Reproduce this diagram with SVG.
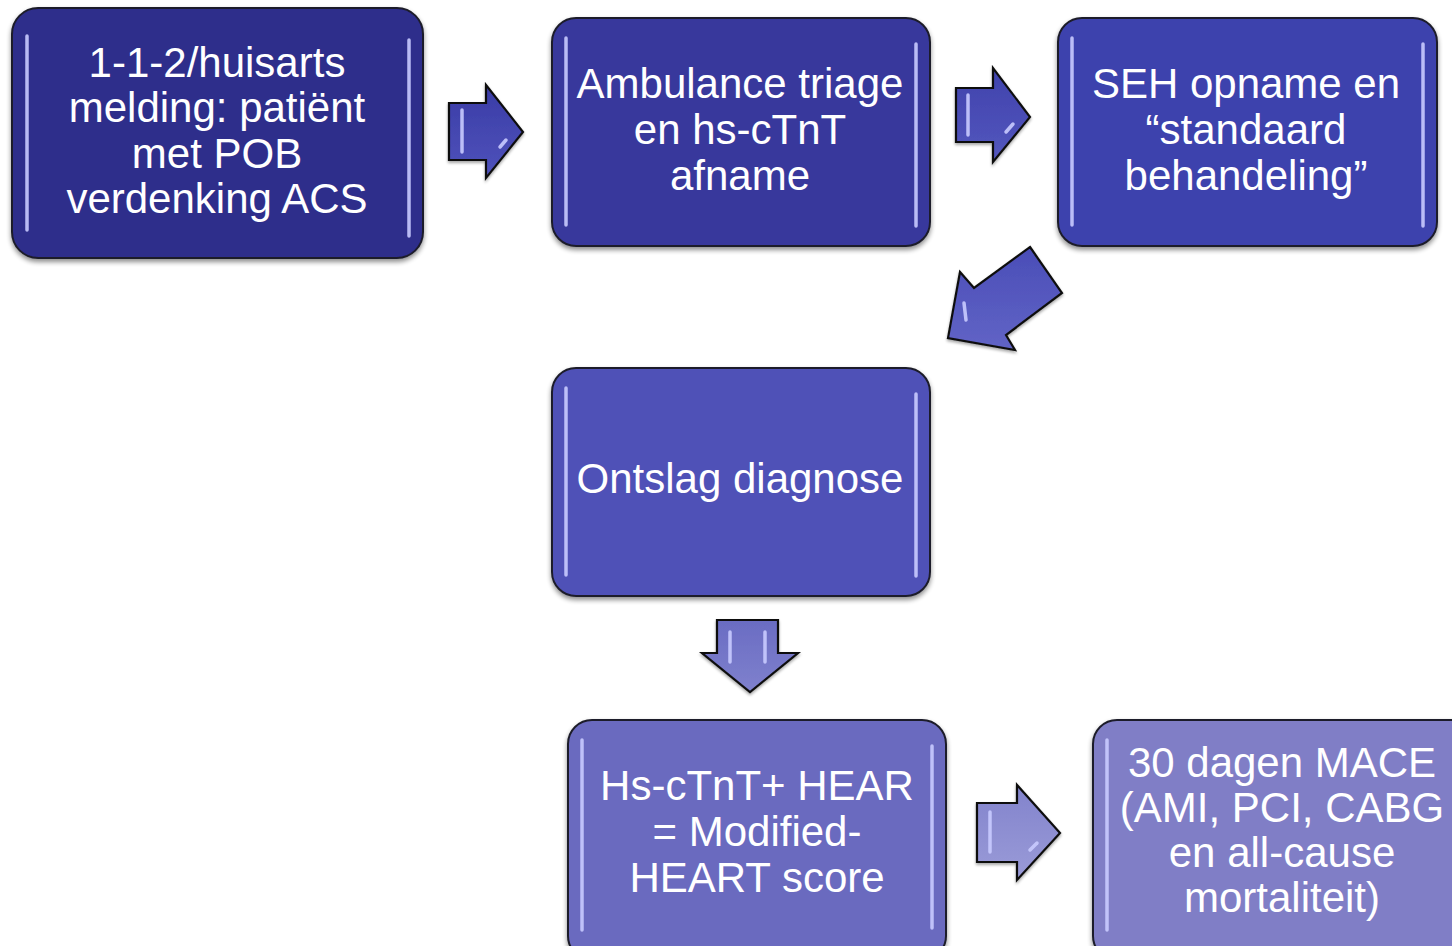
<svg xmlns="http://www.w3.org/2000/svg" width="1452" height="946" viewBox="0 0 1452 946">
<defs>
<style>
.box{stroke:#1e1e2a;stroke-width:2;filter:url(#sh)}
.hl{stroke:#c9cbff;stroke-width:3.5;stroke-linecap:round;fill:none;opacity:0.9}
.t{font-family:"Liberation Sans",Arial,sans-serif;font-size:42px;fill:#ffffff;text-anchor:middle}
.arr{stroke:#111111;stroke-width:2.2;stroke-linejoin:miter;filter:url(#sh2)}
</style>
<filter id="sh" x="-10%" y="-10%" width="120%" height="125%">
<feGaussianBlur in="SourceAlpha" stdDeviation="2.5"/>
<feOffset dx="0" dy="3" result="b"/>
<feComponentTransfer><feFuncA type="linear" slope="0.45"/></feComponentTransfer>
<feMerge><feMergeNode/><feMergeNode in="SourceGraphic"/></feMerge>
</filter>
<filter id="sh2" x="-20%" y="-20%" width="140%" height="140%">
<feGaussianBlur in="SourceAlpha" stdDeviation="1.5"/>
<feOffset dx="0" dy="2" result="b"/>
<feComponentTransfer><feFuncA type="linear" slope="0.35"/></feComponentTransfer>
<feMerge><feMergeNode/><feMergeNode in="SourceGraphic"/></feMerge>
</filter>
<linearGradient id="a1" x1="0" y1="0" x2="0" y2="1"><stop offset="0" stop-color="#3a3ca6"/><stop offset="1" stop-color="#4f52bb"/></linearGradient>
<linearGradient id="a2" x1="0" y1="0" x2="0" y2="1"><stop offset="0" stop-color="#3f42ac"/><stop offset="1" stop-color="#5457be"/></linearGradient>
<linearGradient id="a3" x1="0" y1="0" x2="0" y2="1"><stop offset="0" stop-color="#4a4db7"/><stop offset="1" stop-color="#6164c6"/></linearGradient>
<linearGradient id="a4" x1="0" y1="0" x2="0" y2="1"><stop offset="0" stop-color="#6a6cc3"/><stop offset="1" stop-color="#7f81cd"/></linearGradient>
<linearGradient id="a5" x1="0" y1="0" x2="0" y2="1"><stop offset="0" stop-color="#8283cc"/><stop offset="1" stop-color="#9a9bd8"/></linearGradient>
</defs>
<rect width="1452" height="946" fill="#ffffff"/>

<g id="connectors">
<g id="arrow1">
<polygon class="arr" fill="url(#a1)" points="449,103 486,103 486,85 523,132 486,178 486,160 449,160"/>
<path class="hl" d="M462,110 L462,152" stroke-width="2.5"/>
<path class="hl" d="M500,147 L506,140" stroke-width="3"/>
</g>
<g id="arrow2">
<polygon class="arr" fill="url(#a2)" points="956,88 993,88 993,68 1030,117 993,162 993,142 956,142"/>
<path class="hl" d="M968,95 L968,135" stroke-width="2.5"/>
<path class="hl" d="M1006,132 L1013,124" stroke-width="3"/>
</g>
<g id="arrow3">
<polygon class="arr" fill="url(#a3)" points="1030,247 1062,293 1006,335 1015,350 948,338 960,272 974,288"/>
<path class="hl" d="M964,303 L966,320" stroke-width="3"/>
</g>
<g id="arrow4">
<polygon class="arr" fill="url(#a4)" points="717,620 778,620 778,653 798,653 750,692 702,653 717,653"/>
<path class="hl" d="M730,632 L730,662" stroke-width="2.5"/>
<path class="hl" d="M765,632 L765,662" stroke-width="2.5"/>
</g>
<g id="arrow5">
<polygon class="arr" fill="url(#a5)" points="977,803 1017,803 1017,785 1060,833 1017,880 1017,862 977,862"/>
<path class="hl" d="M990,812 L990,852" stroke-width="2.5"/>
<path class="hl" d="M1030,850 L1037,843" stroke-width="3"/>
</g>
</g>

<g id="node1">
<rect class="box" x="12" y="8" width="411" height="250" rx="26" fill="#2d2d8b"/>
<path class="hl" d="M27,36 L27,230"/>
<path class="hl" d="M409,40 L409,236"/>
<text class="t" x="217" y="77">1-1-2/huisarts</text>
<text class="t" x="217" y="122">melding: patiënt</text>
<text class="t" x="217" y="168">met POB</text>
<text class="t" x="217" y="213">verdenking ACS</text>
</g>

<g id="node2">
<rect class="box" x="552" y="18" width="378" height="228" rx="24" fill="#37389c"/>
<path class="hl" d="M566,38 L566,225"/>
<path class="hl" d="M916,44 L916,226"/>
<text class="t" x="740" y="98">Ambulance triage</text>
<text class="t" x="740" y="144">en hs-cTnT</text>
<text class="t" x="740" y="190">afname</text>
</g>

<g id="node3">
<rect class="box" x="1058" y="18" width="379" height="228" rx="24" fill="#3e42ad"/>
<path class="hl" d="M1072,38 L1072,225"/>
<path class="hl" d="M1423,44 L1423,226"/>
<text class="t" x="1246" y="98">SEH opname en</text>
<text class="t" x="1246" y="144">“standaard</text>
<text class="t" x="1246" y="190">behandeling”</text>
</g>

<g id="node4">
<rect class="box" x="552" y="368" width="378" height="228" rx="24" fill="#4f51b7"/>
<path class="hl" d="M566,388 L566,575"/>
<path class="hl" d="M916,394 L916,576"/>
<text class="t" x="740" y="493">Ontslag diagnose</text>
</g>

<g id="node5">
<rect class="box" x="568" y="720" width="378" height="240" rx="24" fill="#6b6abf"/>
<path class="hl" d="M582,740 L582,930"/>
<path class="hl" d="M932,746 L932,928"/>
<text class="t" x="757" y="800">Hs-cTnT+ HEAR</text>
<text class="t" x="757" y="846">= Modified-</text>
<text class="t" x="757" y="892">HEART score</text>
</g>

<g id="node6">
<rect class="box" x="1093" y="720" width="390" height="240" rx="24" fill="#807ec6"/>
<path class="hl" d="M1107,740 L1107,930"/>
<text class="t" x="1282" y="777">30 dagen MACE</text>
<text class="t" x="1282" y="822">(AMI, PCI, CABG</text>
<text class="t" x="1282" y="867">en all-cause</text>
<text class="t" x="1282" y="912">mortaliteit)</text>
</g>
</svg>
